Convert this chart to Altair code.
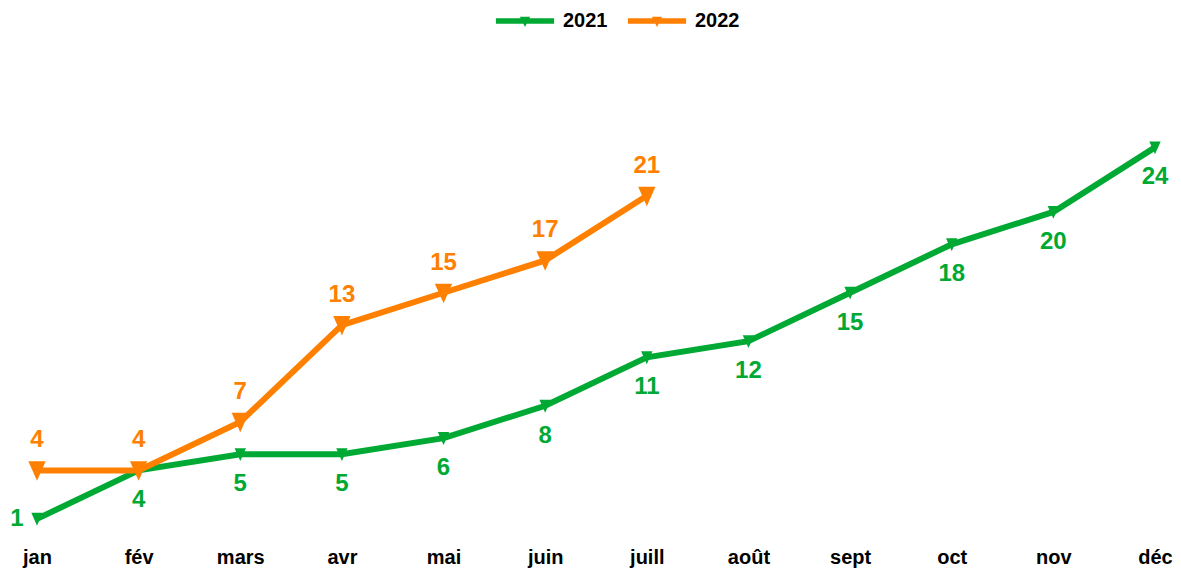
import altair as alt
import pandas as pd

months = ["jan", "fév", "mars", "avr", "mai", "juin", "juill", "août", "sept", "oct", "nov", "déc"]
v2021 = [1, 4, 5, 5, 6, 8, 11, 12, 15, 18, 20, 24]
v2022 = [4, 4, 7, 13, 15, 17, 21]
series = ["2021", "2022"]
colors = ["#00a933", "#ff8000"]

rows = [{"month": m, "value": v, "year": "2021", "idx": i} for i, (m, v) in enumerate(zip(months, v2021))]
rows += [{"month": m, "value": v, "year": "2022", "idx": i} for i, (m, v) in enumerate(zip(months, v2022))]
df = pd.DataFrame(rows)

FONT = "Liberation Sans"

legend_path = ("M-0.97,-0.09L0.97,-0.09L0.97,0.09L-0.97,0.09Z "
               "M-0.17,-0.14L0.17,-0.14L0,0.2Z")
marker_path = "M-1,-1.05L1,-1.05L0,1.2Z"

x = alt.X("month:O", sort=months,
          scale=alt.Scale(type="point", domain=months, range=[29, 1147], padding=0),
          axis=alt.Axis(title=None, labelAngle=0, domain=False, ticks=False, grid=False,
                        labelFont=FONT, labelFontSize=20, labelFontWeight="bold",
                        labelColor="#000000", labelPadding=12))
y = alt.Y("value:Q", scale=alt.Scale(domain=[0, 32.63], nice=False, zero=True), axis=None)
color = alt.Color("year:N", scale=alt.Scale(domain=series, range=colors),
                  legend=alt.Legend(title=None, orient="none", direction="horizontal",
                                    legendX=487, legendY=-17,
                                    symbolType=legend_path, symbolSize=3600,
                                    symbolStrokeWidth=0,
                                    labelOffset=8, columnPadding=19,
                                    labelFont=FONT, labelFontSize=20, labelFontWeight="bold",
                                    labelColor="#000000", padding=0))

base = alt.Chart(df)

lines = base.mark_line(strokeWidth=6).encode(x=x, y=y, color=color, detail="year:N")
p21 = base.transform_filter("datum.year == '2021'").mark_point(
    shape=marker_path, filled=True, opacity=1, size=130).encode(x=x, y=y, color=color)
p22 = base.transform_filter("datum.year == '2022'").mark_point(
    shape=marker_path, filled=True, opacity=1, size=300).encode(x=x, y=y, color=color)

text_style = dict(font=FONT, fontSize=24, fontWeight="bold")
t21 = base.transform_filter("datum.year == '2021' && datum.idx > 0").mark_text(dy=30, **text_style).encode(
    x=x, y=y, text="value:Q", color=color)
t21a = base.transform_filter("datum.year == '2021' && datum.idx == 0").mark_text(dx=-20, dy=0, **text_style).encode(
    x=x, y=y, text="value:Q", color=color)
t22 = base.transform_filter("datum.year == '2022'").mark_text(dy=-30, **text_style).encode(
    x=x, y=y, text="value:Q", color=color)

chart = alt.layer(lines, p21, p22, t21, t21a, t22).properties(
    width=1165, height=527,
    autosize=alt.AutoSizeParams(type="none"),
    padding={"left": 0, "top": 0, "right": 0, "bottom": 35},
).configure_view(stroke=None)

chart.save("out.html", embed_options={"renderer": "svg", "actions": False})
